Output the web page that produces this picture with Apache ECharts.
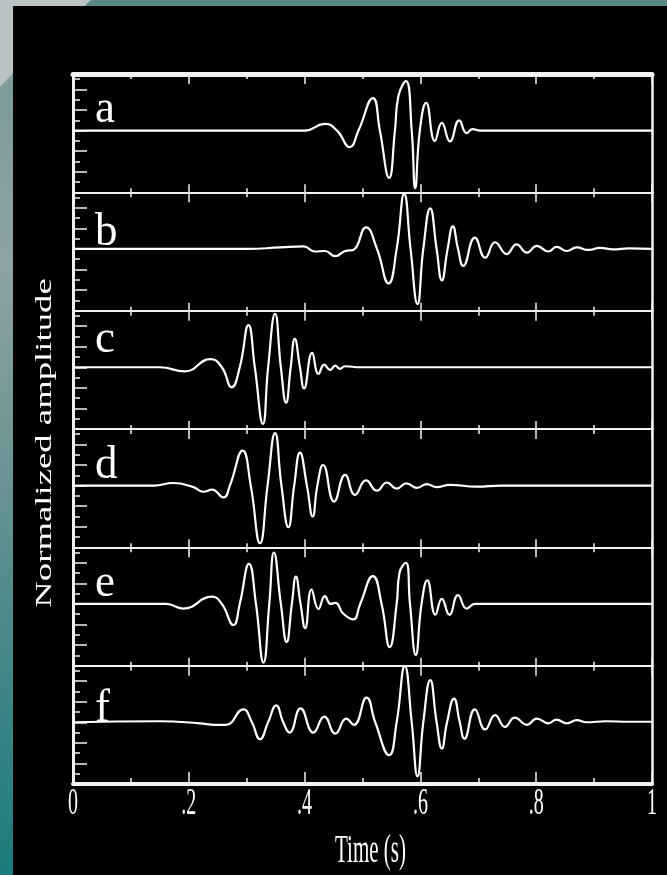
<!DOCTYPE html>
<html><head><meta charset="utf-8">
<script src="https://cdn.jsdelivr.net/npm/echarts@6/dist/echarts.min.js"></script>
<style>html,body{margin:0;padding:0;background:#000;overflow:hidden}#c{width:667px;height:875px}</style>
</head><body><div id="c"></div>
<script>
// ---------- data ----------
const panelLabels = ['a', 'b', 'c', 'd', 'e', 'f'];
const xTickValues = [0, 0.2, 0.4, 0.6, 0.8, 1];
const xTickLabels = ['0', '.2', '.4', '.6', '.8', '1'];
const xTitle = 'Time (s)';
const yTitle = 'Normalized amplitude';

const traceA = [[0,0],[0.40,0],[0.435,0.13],[0.456,0],[0.478,-0.32],[0.493,0],[0.518,0.63],[0.530,0],[0.546,-0.92],[0.556,0],[0.562,0.67],[0.575,0.96],[0.585,0],[0.591,-1.12],[0.599,0],[0.610,0.54],[0.625,-0.20],[0.637,0.15],[0.651,-0.21],[0.667,0.20],[0.680,-0.05],[0.690,0.03],[0.703,0],[1,0]];
const traceB = [[0,0],[0.30,0],[0.358,0.03],[0.398,0.05],[0.418,-0.05],[0.435,-0.04],[0.453,-0.14],[0.470,-0.04],[0.484,-0.02],[0.506,0.42],[0.525,0],[0.545,-0.67],[0.559,0],[0.572,1.07],[0.583,0],[0.595,-1.07],[0.605,0],[0.617,0.79],[0.628,0],[0.637,-0.61],[0.647,0],[0.656,0.44],[0.665,0],[0.674,-0.33],[0.694,0.22],[0.712,-0.17],[0.729,0.13],[0.749,-0.10],[0.766,0.09],[0.784,-0.07],[0.801,0.06],[0.821,-0.05],[0.835,0.04],[0.853,-0.04],[0.870,0.03],[0.890,-0.02],[0.910,0.02],[0.933,-0.01],[0.96,0.01],[1,0]];
const traceC = [[0,0],[0.150,0],[0.193,-0.08],[0.237,0.16],[0.257,0],[0.274,-0.39],[0.288,0],[0.303,0.82],[0.314,0],[0.328,-1.10],[0.337,0],[0.349,1.04],[0.359,0],[0.368,-0.69],[0.376,0],[0.383,0.55],[0.392,0],[0.399,-0.41],[0.413,0.28],[0.424,-0.13],[0.434,0.05],[0.444,-0.05],[0.453,0.03],[0.461,-0.03],[0.470,0.02],[0.496,0],[1,0]];
const traceD = [[0,0],[0.140,0],[0.173,0.05],[0.208,-0.03],[0.225,-0.12],[0.240,-0.08],[0.260,-0.23],[0.271,0],[0.293,0.68],[0.307,0],[0.323,-1.12],[0.336,0],[0.349,1.02],[0.360,0],[0.372,-0.81],[0.382,0],[0.392,0.64],[0.404,0],[0.414,-0.60],[0.422,0],[0.432,0.40],[0.451,-0.31],[0.470,0.21],[0.487,-0.18],[0.506,0.10],[0.525,-0.10],[0.542,0.06],[0.559,-0.06],[0.576,0.045],[0.594,-0.045],[0.611,0.03],[0.628,-0.03],[0.651,0.015],[0.697,-0.02],[0.74,0],[1,0]];
const traceE = [[0,0],[0.161,0],[0.190,-0.09],[0.240,0.14],[0.257,0],[0.277,-0.41],[0.288,0],[0.304,0.78],[0.316,0],[0.329,-1.14],[0.339,0],[0.347,1.00],[0.359,0],[0.369,-0.74],[0.378,0],[0.385,0.53],[0.393,0],[0.401,-0.47],[0.412,0.28],[0.424,-0.10],[0.435,0.15],[0.445,0],[0.453,0.02],[0.467,-0.19],[0.484,-0.30],[0.496,0],[0.518,0.54],[0.533,0],[0.547,-0.84],[0.559,0],[0.564,0.61],[0.575,0.80],[0.582,0],[0.592,-0.99],[0.602,0],[0.612,0.46],[0.626,-0.21],[0.637,0.10],[0.650,-0.21],[0.665,0.17],[0.680,-0.09],[0.694,0],[0.703,0],[1,0]];
const traceF = [[0,0],[0.15,0.02],[0.219,-0.02],[0.245,-0.05],[0.264,-0.05],[0.294,0.25],[0.309,0],[0.323,-0.33],[0.337,0],[0.351,0.33],[0.363,0],[0.374,-0.20],[0.393,0.27],[0.415,-0.20],[0.434,0.11],[0.453,-0.22],[0.472,0.07],[0.485,-0.05],[0.507,0.48],[0.522,0],[0.546,-0.64],[0.559,0],[0.573,1.09],[0.585,0],[0.595,-1.05],[0.605,0],[0.617,0.82],[0.628,0],[0.637,-0.51],[0.646,0],[0.658,0.46],[0.668,0],[0.676,-0.32],[0.694,0.25],[0.712,-0.14],[0.729,0.14],[0.746,-0.09],[0.763,0.09],[0.784,-0.05],[0.801,0.07],[0.821,-0.02],[0.835,0.05],[0.853,-0.02],[0.870,0.04],[0.887,0],[0.92,0.02],[0.96,0.01],[1,0.01]];

// ---------- layout ----------
const traces = [traceA, traceB, traceC, traceD, traceE, traceF];
const plotL = 73, plotR = 652, plotT = 74, plotB = 784;
const nP = traces.length;
const ph = (plotB - plotT) / nP;
const LC = '#f2f2f2';
const serif = '"Liberation Serif", "DejaVu Serif", serif';

const grids = [], xAxes = [], yAxes = [], series = [];
for (let i = 0; i < nP; i++) {
  grids.push({left: plotL, width: plotR - plotL, top: plotT + i * ph, height: ph, show: false, containLabel: false});
  const last = i === nP - 1;
  xAxes.push({
    gridIndex: i, type: 'value', min: 0, max: 1, interval: 0.2, position: 'bottom',
    axisLine: {show: true, onZero: false, lineStyle: {color: LC, width: last ? 4 : 2}},
    axisTick: {show: true, inside: true, length: last ? 12 : 8, lineStyle: {color: LC, width: 1.5}},
    minorTick: {show: true, splitNumber: 2, length: last ? 6 : 4, lineStyle: {color: LC, width: 1.5}},
    axisLabel: {show: false}, splitLine: {show: false}
  });
  xAxes.push({
    gridIndex: i, type: 'value', min: 0, max: 1, interval: 0.2, position: 'top',
    axisLine: {show: true, onZero: false, lineStyle: {color: LC, width: i === 0 ? 5 : 2}},
    axisTick: {show: true, inside: true, length: 10, lineStyle: {color: LC, width: 1.5}},
    minorTick: {show: true, splitNumber: 2, length: 5, lineStyle: {color: LC, width: 1.5}},
    axisLabel: {show: false}, splitLine: {show: false}
  });
  yAxes.push({
    gridIndex: i, type: 'value', min: -1.2, max: 1.1, interval: 0.4, position: 'left',
    axisLine: {show: true, onZero: false, lineStyle: {color: LC, width: 3}},
    axisTick: {show: true, inside: true, length: 14, lineStyle: {color: LC, width: 1.5}},
    minorTick: {show: true, splitNumber: 2, length: 7, lineStyle: {color: LC, width: 1.5}},
    axisLabel: {show: false}, splitLine: {show: false}
  });
  yAxes.push({
    gridIndex: i, type: 'value', min: -1.2, max: 1.1, interval: 0.4, position: 'right',
    axisLine: {show: true, onZero: false, lineStyle: {color: LC, width: 2.5}},
    axisTick: {show: false}, axisLabel: {show: false}, splitLine: {show: false}
  });
  series.push({
    type: 'line', name: panelLabels[i], xAxisIndex: 2 * i, yAxisIndex: 2 * i,
    data: traces[i], symbol: 'none', showSymbol: false, smooth: 0.5,
    lineStyle: {color: '#ffffff', width: 2.2}, silent: true, z: 3
  });
}

const chart = echarts.init(document.getElementById('c'), null, {renderer: 'canvas'});
chart.setOption({
  animation: false,
  backgroundColor: '#000',
  grid: grids, xAxis: xAxes, yAxis: yAxes, series: series
});

// ---------- decorations & texts ----------
const bottomAxis = 2 * (nP - 1);
const tickY = chart.convertToPixel({yAxisIndex: 2 * (nP - 1)}, -1.2) + 20;
const gfx = [];
gfx.push({type: 'rect', z: -30, silent: true, shape: {x: 0, y: 0, width: 667, height: 875}, style: {fill: '#5b8888'}});
gfx.push({type: 'rect', z: -29, silent: true, shape: {x: 0, y: 0, width: 13, height: 875},
  style: {fill: new echarts.graphic.LinearGradient(0, 0, 0, 1, [
    {offset: 0, color: '#b5bfbf'}, {offset: 0.1, color: '#7d9b9b'}, {offset: 0.3, color: '#8ea3a3'},
    {offset: 0.55, color: '#6a9393'}, {offset: 0.8, color: '#3c8585'}, {offset: 1, color: '#1c7c7d'}])}});
gfx.push({type: 'polygon', z: -28, silent: true, shape: {points: [[0, 0], [91, 0], [13, 73], [0, 87]]}, style: {fill: '#b9c3c3'}});
gfx.push({type: 'rect', z: -27, silent: true, shape: {x: 13, y: 6, width: 654, height: 869}, style: {fill: '#000'}});

const letterY = [110, 233, 340, 466, 584, 709];
panelLabels.forEach((t, i) => {
  gfx.push({type: 'text', x: 95, y: letterY[i], scaleY: 1.05, z: 10, silent: true,
    style: {text: t, fill: '#fff', font: '45px ' + serif, align: 'left', verticalAlign: 'middle', textAlign: 'left', textVerticalAlign: 'middle'}});
});
xTickValues.forEach((v, i) => {
  const px = chart.convertToPixel({xAxisIndex: bottomAxis}, v);
  gfx.push({type: 'text', x: px, y: tickY, scaleY: 1.85, z: 10, silent: true,
    style: {text: xTickLabels[i], fill: '#fff', font: '20px ' + serif, align: 'center', verticalAlign: 'middle', textAlign: 'center', textVerticalAlign: 'middle'}});
});
gfx.push({type: 'text', x: (plotL + plotR) / 2 + 8, y: 851, scaleY: 1.95, z: 10, silent: true,
  style: {text: xTitle, fill: '#fff', font: '21px ' + serif, align: 'center', verticalAlign: 'middle', textAlign: 'center', textVerticalAlign: 'middle'}});
gfx.push({type: 'text', x: 45, y: 443, rotation: Math.PI / 2, scaleX: 1.53, z: 10, silent: true,
  style: {text: yTitle, fill: '#fff', font: '24px ' + serif, align: 'center', verticalAlign: 'middle', textAlign: 'center', textVerticalAlign: 'middle'}});

chart.setOption({graphic: {elements: gfx}});
</script>
</body></html>
